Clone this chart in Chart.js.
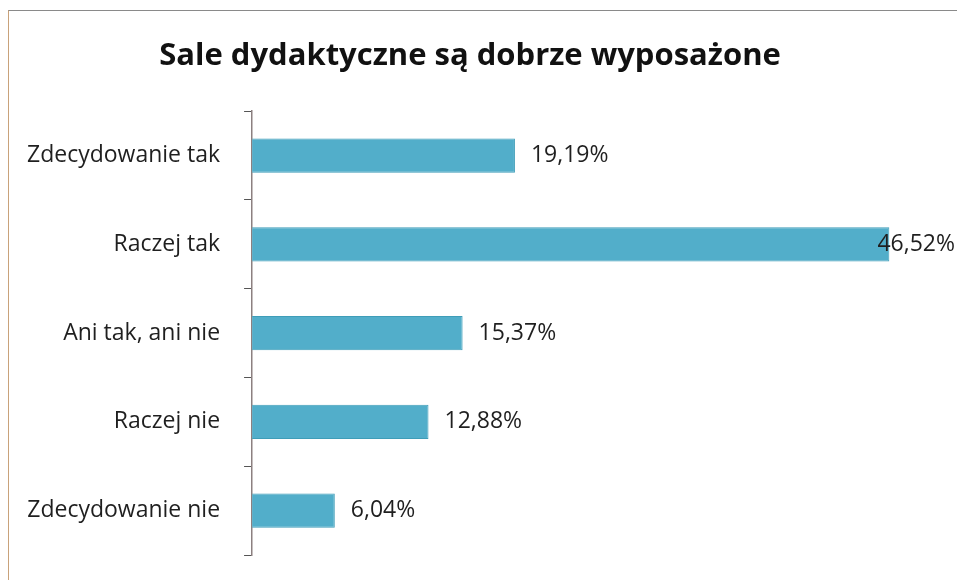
<!DOCTYPE html>
<html>
<head>
<meta charset="utf-8">
<script src="https://cdn.jsdelivr.net/npm/chart.js@4/dist/chart.umd.min.js"></script>
<style>
  html, body { margin: 0; padding: 0; background: #fff; }
  #wrap { position: relative; width: 957px; height: 580px; overflow: hidden; }
  #frame { position: absolute; left: 8px; top: 10px; width: 1000px; height: 600px;
           border-top: 1px solid #8a8a8a; border-left: 1px solid #c9a27a; }
  canvas { position: absolute; left: 0; top: 0; }
</style>
</head>
<body>
<div id="wrap">
  <div id="frame"></div>
  <canvas id="c" width="957" height="580"></canvas>
</div>
<script>
const titleText = "Sale dydaktyczne są dobrze wyposażone";
const categories = ["Zdecydowanie tak", "Raczej tak", "Ani tak, ani nie", "Raczej nie", "Zdecydowanie nie"];
const values = [19.19, 46.52, 15.37, 12.88, 6.04];
const valueLabels = ["19,19%", "46,52%", "15,37%", "12,88%", "6,04%"];

const FONT = "'Open Sans', 'DejaVu Sans', sans-serif";

const valueLabelPlugin = {
  id: 'valueLabels',
  afterDatasetsDraw(chart) {
    const ctx = chart.ctx;
    const meta = chart.getDatasetMeta(0);
    ctx.save();
    ctx.font = "23px " + FONT;
    ctx.fillStyle = "#1f1f1f";
    ctx.textBaseline = "middle";
    ctx.textAlign = "left";
    meta.data.forEach((bar, i) => {
      const txt = valueLabels[i];
      const w = ctx.measureText(txt).width;
      let x = bar.x + 16;
      if (x + w > chart.width - 2) x = chart.width - 2 - w;
      ctx.fillText(txt, x, bar.y);
    });
    ctx.restore();
  }
};

new Chart(document.getElementById('c'), {
  type: 'bar',
  data: {
    labels: categories,
    datasets: [{
      data: values,
      backgroundColor: '#52aeca',
      borderColor: '#3f9db8',
      borderWidth: 1,
      barPercentage: 1,
      categoryPercentage: 0.385
    }]
  },
  options: {
    indexAxis: 'y',
    responsive: false,
    animation: false,
    layout: { padding: { left: 3, right: 20, top: 0, bottom: 25 } },
    plugins: {
      legend: { display: false },
      tooltip: { enabled: false },
      title: {
        display: true,
        text: titleText,
        color: '#111',
        font: { family: FONT, size: 31, weight: 'bold' },
        padding: { top: 38, bottom: 36 }
      }
    },
    scales: {
      x: {
        min: 0, max: 50,
        display: false
      },
      y: {
        grid: {
          display: true,
          offset: true,
          drawOnChartArea: false,
          drawTicks: true,
          tickLength: 8,
          color: '#555',
          lineWidth: 1
        },
        border: { display: true, color: '#8c8080', width: 1.5 },
        ticks: {
          color: '#1f1f1f',
          padding: 24,
          font: { family: FONT, size: 23, lineHeight: 0.05 }
        }
      }
    }
  },
  plugins: [valueLabelPlugin]
});
</script>
</body>
</html>
